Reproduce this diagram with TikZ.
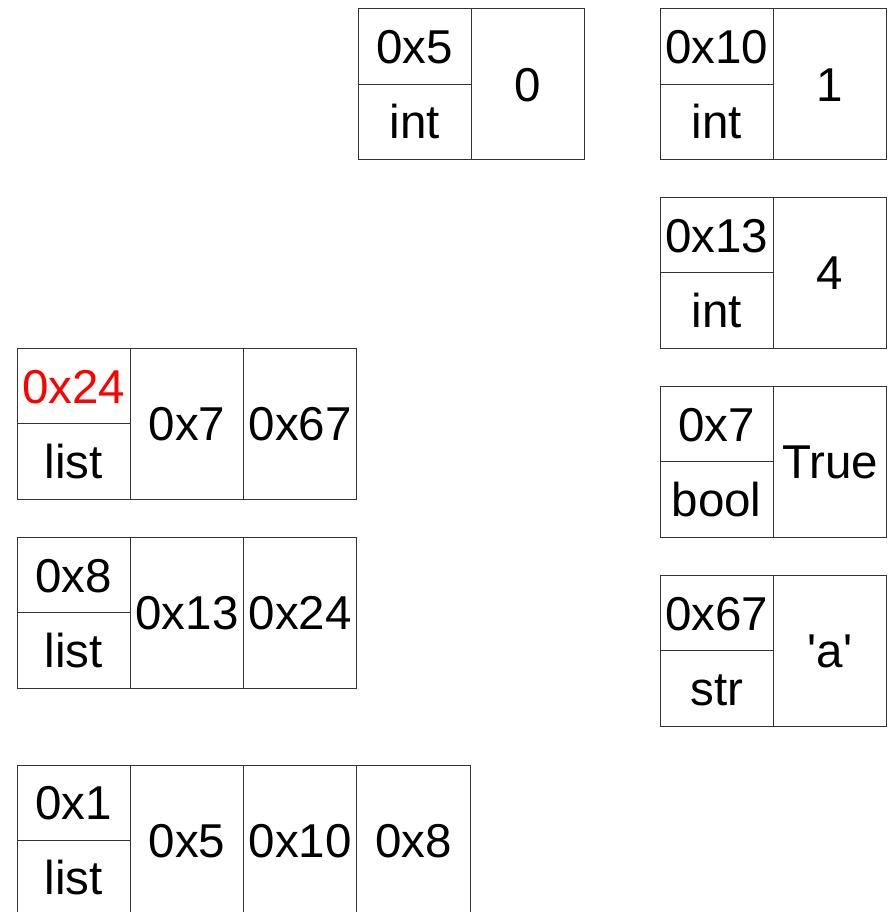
\documentclass[tikz,border=0pt]{standalone}
\usepackage{fontspec}
\setmainfont{Liberation Sans}[Ligatures=TeXOff]
\begin{document}
\begin{tikzpicture}[x=1pt,y=-1pt,
  cell/.style={draw=black!80, line width=1pt, minimum width=113.3pt, minimum height=75.3pt,
    inner sep=0pt, text height=34pt, text depth=0pt,
    font=\fontsize{47.5}{57}\selectfont, anchor=north west},
  tall/.style={cell, minimum height=150.6pt}]
\useasboundingbox (0,0) rectangle (893,912);
\clip (0,0) rectangle (893,912);
% 0x5 int 0
\node[cell] (a5) at (357.5,8.5) {0x5};
\node[cell] (t5) at (357.5,83.8) {int};
\node[tall] (v5) at (470.8,8.5) {0};
% 0x10 int 1
\node[cell] (a10) at (659.5,8.5) {0x10};
\node[cell] (t10) at (659.5,83.8) {int};
\node[tall] (v10) at (772.8,8.5) {1};
% 0x13 int 4
\node[cell] (a13) at (659.5,197) {0x13};
\node[cell] (t13) at (659.5,272.3) {int};
\node[tall] (v13) at (772.8,197) {4};
% 0x7 bool True
\node[cell] (a7) at (659.5,386) {0x7};
\node[cell] (t7) at (659.5,461.3) {bool};
\node[tall] (v7) at (772.8,386) {True};
% 0x67 str 'a'
\node[cell] (a67) at (659.5,575) {0x67};
\node[cell] (t67) at (659.5,650.3) {str};
\node[tall] (v67) at (772.8,575) {'a'};
% 0x24 list
\node[cell, text=red] (a24) at (16.5,348) {0x24};
\node[cell] (t24) at (16.5,423.3) {list};
\node[tall] (l24a) at (129.8,348) {0x7};
\node[tall] (l24b) at (243.1,348) {0x67};
% 0x8 list
\node[cell] (a8) at (16.5,537) {0x8};
\node[cell] (t8) at (16.5,612.3) {list};
\node[tall] (l8a) at (129.8,537) {0x13};
\node[tall] (l8b) at (243.1,537) {0x24};
% 0x1 list
\node[cell] (a1) at (16.5,764.5) {0x1};
\node[cell] (t1) at (16.5,839.8) {list};
\node[tall] (l1a) at (129.8,764.5) {0x5};
\node[tall] (l1b) at (243.1,764.5) {0x10};
\node[tall] (l1c) at (356.4,764.5) {0x8};
\end{tikzpicture}
\end{document}
